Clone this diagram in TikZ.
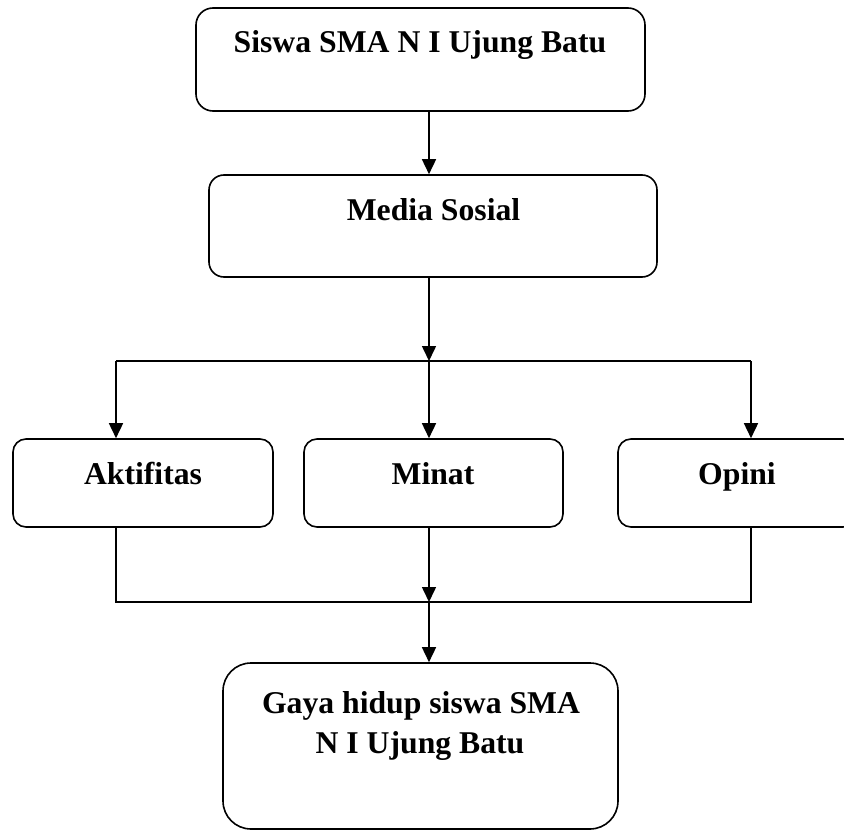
\documentclass[tikz,border=0pt]{standalone}
\usepackage{fontspec}
\setmainfont{Liberation Serif}
\usetikzlibrary{arrows.meta}
\begin{document}
\begin{tikzpicture}[x=1pt,y=-1pt,
  box/.style={draw, line width=1.6pt, inner sep=0pt},
  lbl/.style={font=\fontsize{31.7}{40}\selectfont\bfseries, anchor=base, inner sep=0pt},
  conn/.style={line width=1.6pt},
  arr/.style={line width=1.6pt, -{Triangle[length=15pt,width=14pt]}}]
\clip (0,0) rectangle (844,832);
\useasboundingbox (0,0) rectangle (844,832);
% boxes
\node[box, minimum width=449pt, minimum height=103pt, rounded corners=17pt] (b1) at (420.5,59.5) {};
\node[box, minimum width=448pt, minimum height=102pt, rounded corners=15pt] (b2) at (433,226) {};
\node[box, minimum width=260pt, minimum height=88pt, rounded corners=13pt] (a) at (143,483) {};
\node[box, minimum width=259pt, minimum height=88pt, rounded corners=13pt] (m) at (433.5,483) {};
\node[box, minimum width=238pt, minimum height=88pt, rounded corners=13pt] (o) at (737,483) {};
\node[box, minimum width=395pt, minimum height=166pt, rounded corners=28pt] (g) at (420.5,746) {};
% labels
\node[lbl] (t1) at (420,53) {Siswa SMA N I Ujung Batu};
\node[lbl] (t2) at (433.5,220) {Media Sosial};
\node[lbl] (ta) at (143,484) {Aktifitas};
\node[lbl] (tm) at (433,484) {Minat};
\node[lbl] (to) at (737,484) {Opini};
\node[lbl] (tg1) at (421,713) {Gaya hidup siswa SMA};
\node[lbl] (tg2) at (420,753) {N I Ujung Batu};
% connector points
\coordinate (col) at (429,0);
\coordinate (hL) at (116,361);
\coordinate (hR) at (751,361);
\coordinate (lL) at (116,602);
\coordinate (lR) at (751,602);
% connectors
\draw[arr] (col |- b1.south) -- (col |- b2.north);
\draw[arr] (col |- b2.south) -- (col |- hL);
\draw[conn] (hL) -- (hR);
\draw[arr] (hL) -- (hL |- a.north);
\draw[arr] (col |- hL) -- (col |- m.north);
\draw[arr] (hR) -- (hR |- o.north);
\draw[conn] (hL |- a.south) -- (lL) -- (lR) -- (hR |- o.south);
\draw[arr] (col |- m.south) -- (col |- lL);
\draw[arr] (col |- lL) -- (col |- g.north);
\end{tikzpicture}
\end{document}
